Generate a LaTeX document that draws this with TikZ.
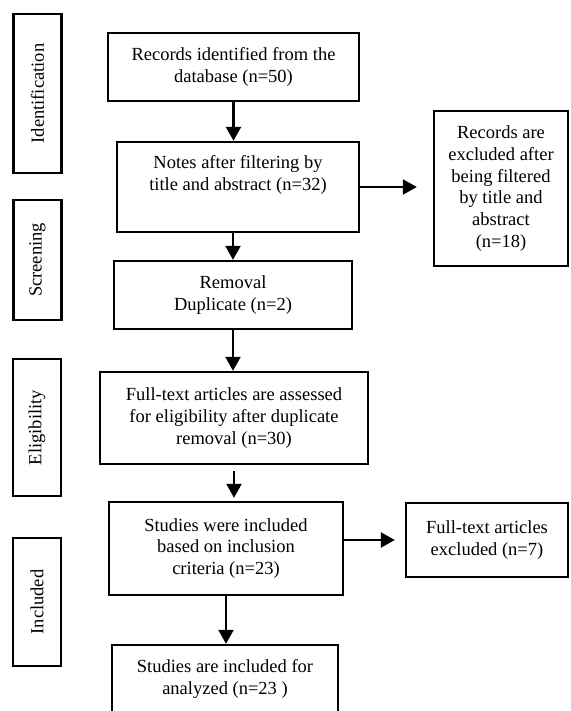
\documentclass[tikz,border=0pt]{standalone}
\usepackage{fontspec}
\setmainfont{Liberation Serif}
\usetikzlibrary{arrows.meta}

\begin{document}
\begin{tikzpicture}[x=1pt,y=-1pt,
    box/.style={draw,line width=2.4pt,align=center,inner sep=0pt,font=\fontsize{18.5}{21.7}\selectfont},
    side/.style={box,rotate=90,minimum height=48pt},
    arr/.style={line width=2.4pt,-{Triangle[length=14pt,width=15pt]}}]
    \useasboundingbox (0,0) rectangle (570,711);
    % stages on the left
    \node[side,minimum width=159pt] (ident) at (37.5,93.5) {Identification};
    \node[side,minimum width=120pt] (screen) at (37.5,260) {Screening};
    \node[side,minimum width=137pt] (elig) at (37,427.5) {Eligibility};
    \node[side,minimum width=128pt] (inclsec) at (37,602) {Included};
    % main column
    \node[box,minimum width=251pt,minimum height=68pt] (rec) at (233.5,67) {Records identified from the\\database (n=50)};
    \node[box,minimum width=242pt,minimum height=90pt] (notes) at (238,187) {Notes after filtering by\\title and abstract (n=32)\\ \strut};
    \node[box,minimum width=238pt,minimum height=68pt] (dup) at (233,295) {Removal\\Duplicate (n=2)};
    \node[box,minimum width=268pt,minimum height=92pt] (full) at (234,418) {Full-text articles are assessed\\for eligibility after duplicate\\removal (n=30)};
    \node[box,minimum width=234pt,minimum height=93pt] (incl) at (226,548.5) {Studies were included\\based on inclusion\\criteria (n=23)};
    \node[box,minimum width=226pt,minimum height=68pt] (anal) at (225,679) {Studies are included for\\analyzed (n=23 )};
    % excluded
    \node[box,minimum width=134pt,minimum height=155pt] (excl1) at (501,188.5) {Records are\\excluded after\\being filtered\\by title and\\abstract\\(n=18)};
    \node[box,minimum width=162pt,minimum height=74pt] (excl2) at (487,540) {Full-text articles\\excluded (n=7)};
    \draw[arr] (rec.south) -- (rec.south |- notes.north);
    \draw[arr] (notes.south -| dup.north) -- (dup.north);
    \draw[arr] (dup.south) -- (dup.south |- full.north);
    \draw[arr,shorten <=6pt,shorten >=3pt] (full.south) -- (full.south |- incl.north);
    \draw[arr] (incl.south) -- (incl.south |- anal.north);
    \draw[arr,shorten >=16pt] (notes.east) -- (notes.east -| excl1.west);
    \draw[arr,shorten >=10pt] (excl2.west -| incl.east) -- (excl2.west);
\end{tikzpicture}
\end{document}
